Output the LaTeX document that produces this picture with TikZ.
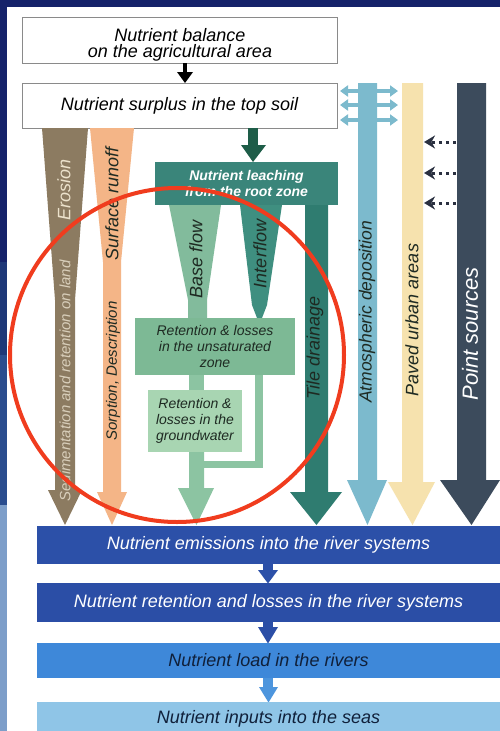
\documentclass[tikz,border=0pt]{standalone}
\usepackage{fontspec}
\setmainfont{Liberation Sans}
\usetikzlibrary{arrows.meta}
\definecolor{navy}{HTML}{15226A}
\definecolor{stripB}{HTML}{1E3878}
\definecolor{stripC}{HTML}{2A4D8E}
\definecolor{stripD}{HTML}{7D9EC9}
\definecolor{boxgrey}{HTML}{8A8A8A}
\definecolor{erocol}{HTML}{8C7B61}
\definecolor{erotext}{HTML}{ECE2CC}
\definecolor{sedtext}{HTML}{D9CFBB}
\definecolor{runcol}{HTML}{F4B587}
\definecolor{darktext}{HTML}{1E2A22}
\definecolor{leachcol}{HTML}{3A857A}
\definecolor{leacharrow}{HTML}{1E5D48}
\definecolor{basecol}{HTML}{82BB9C}
\definecolor{intercol}{HTML}{3F8F80}
\definecolor{tilecol}{HTML}{2F7C70}
\definecolor{unsatcol}{HTML}{7DB995}
\definecolor{gwcol}{HTML}{A8D5B2}
\definecolor{stemcol}{HTML}{8CC4A2}
\definecolor{atmcol}{HTML}{7CBACD}
\definecolor{pavedcol}{HTML}{F6E2AE}
\definecolor{pointcol}{HTML}{3C4B5C}
\definecolor{dotcol}{HTML}{2A3040}
\definecolor{riverA}{HTML}{2C50A8}
\definecolor{riverB}{HTML}{2B4EA6}
\definecolor{riverC}{HTML}{3E88D9}
\definecolor{riverCarrow}{HTML}{4D95DD}
\definecolor{riverD}{HTML}{8FC5E7}
\definecolor{seatext}{HTML}{10203A}
\definecolor{redring}{HTML}{F03C1E}
\begin{document}
\begin{tikzpicture}[x=1pt,y=-1pt,
  whitebox/.style={draw=boxgrey, line width=1pt, fill=white, minimum width=315pt, minimum height=46pt, inner sep=0pt, font=\fontsize{18}{21}\selectfont\itshape, align=center, text=black},
  boxtext/.style={inner sep=0pt, anchor=base, font=\fontsize{18}{21}\selectfont\itshape, text=black},
  riverbox/.style={minimum width=463pt, inner sep=0pt, font=\fontsize{18}{21}\selectfont\itshape},
  greenbox/.style={inner sep=0pt, font=\fontsize{14}{16}\selectfont\itshape, align=center, text=darktext},
  vlabel/.style={rotate=90, inner sep=0pt, font=\fontsize{18}{21}\selectfont\itshape, text=darktext},
  vsmall/.style={vlabel, font=\fontsize{15}{17}\selectfont\itshape},
  dblarrow/.style={draw=atmcol, line width=3.5pt, {Triangle[width=11pt,length=8pt]}-{Triangle[width=11pt,length=8pt]}},
  dotarrow/.style={draw=dotcol, line width=3pt, dash pattern=on 3.5pt off 3.5pt, -{Stealth[width=13pt,length=11pt]}}
]
\useasboundingbox (0,0) rectangle (500,731);
\fill[white] (0,0) rectangle (500,731);
% frame
\fill[navy] (0,0) rectangle (500,7);
\fill[navy] (0,0) rectangle (7,262);
\fill[stripB] (0,262) rectangle (7,355);
\fill[stripC] (0,355) rectangle (7,505);
\fill[stripD] (0,505) rectangle (7,731);

% top boxes
\node[whitebox] (balance) at (179.5,40) {};
\node[boxtext] (balA) at (180,41) {Nutrient balance};
\node[boxtext] (balB) at (180,57.5) {on the agricultural area};
\node[whitebox, minimum height=45pt] (surplus) at (179.5,105.5) {Nutrient surplus in the top soil};
\fill[black] (183,63) rectangle (187,72);
\fill[black] (177,72) -- (193,72) -- (185,83) -- cycle;

% erosion
\fill[erocol] (42,128) -- (88,128) -- (75,300) -- (75,490) -- (82,490) -- (65,525) -- (48,490) -- (55,490) -- (55,300) -- cycle;
\node[vlabel, text=erotext] (erosion) at (64,190) {Erosion};
\node[vsmall, text=sedtext] (sed) at (65,381) {Sedimentation and retention on land};

% surface runoff
\fill[runcol] (90,128) -- (134,128) -- (121,262) -- (121,492) -- (127,492) -- (112,525) -- (97,492) -- (103,492) -- (103,262) -- cycle;
\node[vlabel] (runoff) at (112,204) {Surface runoff};
\node[vsmall] (sorption) at (113,371) {Sorption, Description};

% leaching
\fill[leacharrow] (248,128) rectangle (258,145);
\fill[leacharrow] (241,145) -- (266,145) -- (253,162) -- cycle;
\node[fill=leachcol, minimum width=183pt, minimum height=43pt, inner sep=0pt, text=white, align=center, font=\fontsize{14}{16}\selectfont\bfseries\itshape] (leach) at (246.5,183.5) {Nutrient leaching\\from the root zone};

% base flow
\fill[basecol] (169,205) -- (221,205) -- (207,300) -- (207,318) -- (188,318) -- (188,300) -- cycle;
\node[vlabel] (base) at (196,259) {Base flow};
% interflow
\fill[intercol] (240,205) -- (282,205) -- (267,305) -- (262,318) -- (257,318) -- (252,305) -- cycle;
\node[vlabel] (inter) at (260,254) {Interflow};

% tile drainage
\fill[tilecol] (305,205) -- (328,205) -- (328,492) -- (342,492) -- (316.5,525) -- (290,492) -- (305,492) -- cycle;
\node[vlabel] (tile) at (315,348) {Tile drainage};

% unsaturated & groundwater
\node[greenbox, fill=unsatcol, minimum width=160pt, minimum height=57pt] (unsat) at (215,346.5) {Retention \& losses\\in the unsaturated\\zone};
\fill[stemcol] (189,375) rectangle (204,390);
\node[greenbox, fill=gwcol, minimum width=94pt, minimum height=62pt] (gw) at (195,421) {Retention \&\\losses in the\\groundwater};
\fill[stemcol] (255,375) rectangle (263,468);
\fill[stemcol] (204,461) rectangle (263,468);
\fill[stemcol] (189,452) -- (204,452) -- (204,488) -- (214,488) -- (196.5,525) -- (178,488) -- (189,488) -- cycle;

% atmospheric deposition
\fill[atmcol] (358,83) -- (377,83) -- (377,480) -- (387,480) -- (367.5,525) -- (347,480) -- (358,480) -- cycle;
\draw[dblarrow] (340,91) -- (398,91);
\draw[dblarrow] (340,105) -- (398,105);
\draw[dblarrow] (340,120) -- (398,120);
\node[vlabel, font=\fontsize{17.5}{20}\selectfont\itshape] (atm) at (367,312) {Atmospheric deposition};

% paved urban areas
\fill[pavedcol] (402,83) -- (423,83) -- (423,482) -- (435,482) -- (412.5,525) -- (388,482) -- (402,482) -- cycle;
\node[vlabel] (paved) at (412,320) {Paved urban areas};

% point sources
\fill[pointcol] (457,83) -- (486,83) -- (486,480) -- (500,480) -- (471.5,525) -- (440,480) -- (457,480) -- cycle;
\node[vlabel, text=white, font=\fontsize{22}{25}\selectfont\itshape] (point) at (470,334) {Point sources};
\coordinate (pA) at (456,142); \coordinate (qA) at (424,142);
\coordinate (pB) at (456,173); \coordinate (qB) at (424,173);
\coordinate (pC) at (456,203); \coordinate (qC) at (424,203);
\draw[dotarrow] (pA) -- (qA);
\draw[dotarrow] (pB) -- (qB);
\draw[dotarrow] (pC) -- (qC);

% river boxes
\node[riverbox, fill=riverA, minimum height=38pt, text=white] (emis) at (268.5,545) {Nutrient emissions into the river systems};
\fill[riverA] (263,563) rectangle (273,571);
\fill[riverA] (258,570) -- (278,570) -- (268,583.5) -- cycle;
\node[riverbox, fill=riverB, minimum height=39pt, text=white] (ret) at (268.5,602.5) {Nutrient retention and losses in the river systems};
\fill[riverB] (263,621) rectangle (273,628);
\fill[riverB] (258,627) -- (278,627) -- (268,643.5) -- cycle;
\node[riverbox, fill=riverC, minimum height=35pt, text=seatext] (load) at (268.5,660.5) {Nutrient load in the rivers};
\fill[riverCarrow] (263,678) rectangle (273,688);
\fill[riverCarrow] (259,687) -- (278,687) -- (268.5,702.5) -- cycle;
\fill[riverD] (37,702) rectangle (500,731);
\node[inner sep=0pt, font=\fontsize{18}{21}\selectfont\itshape, text=seatext] (seas) at (268.5,719) {Nutrient inputs into the seas};

% red ring
\draw[redring, line width=4pt] (177,355) circle[radius=167];
\end{tikzpicture}
\end{document}
